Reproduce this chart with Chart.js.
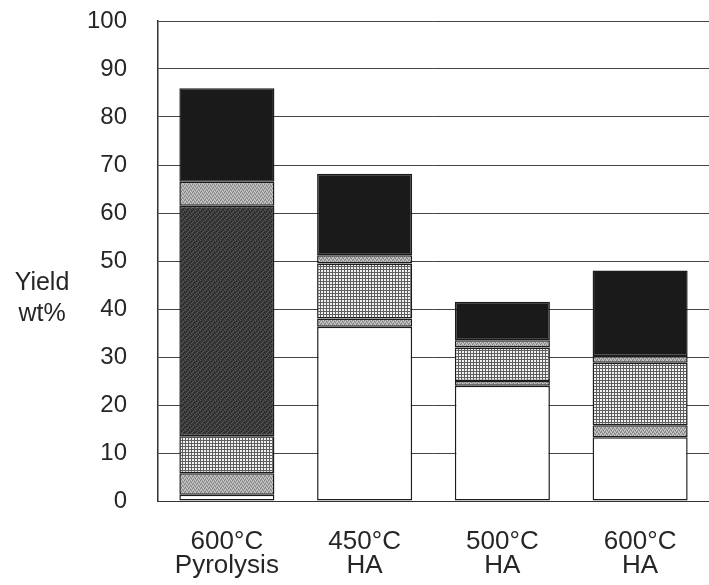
<!DOCTYPE html>
<html>
<head>
<meta charset="utf-8">
<script src="https://cdn.jsdelivr.net/npm/chart.js@4/dist/chart.umd.min.js"></script>
<style>
html,body{margin:0;padding:0;background:#fff;}
#wrap{width:709px;height:585px;}
</style>
</head>
<body>
<div id="wrap"><canvas id="c" width="709" height="585"></canvas></div>
<script>
// ---- data (wt% yield, stacked from bottom to top) ----
const categories = [["600°C","Pyrolysis"],["450°C","HA"],["500°C","HA"],["600°C","HA"]];
const seriesWhite      = [1.3, 36.3, 24.0, 13.3];
const seriesStippleLow = [4.5, 1.7, 1.0, 2.5];
const seriesCrosshatch = [7.7, 11.5, 7.0, 13.0];
const seriesDark       = [48.0, null, null, null];
const seriesStippleHigh= [5.0, 1.7, 1.5, 1.4];
const seriesBlack      = [19.5, 17.0, 8.0, 17.8];
const yMin = 0, yMax = 100, yStep = 10;
const yTitleLines = ['Yield', 'wt%'];

// ---- fill patterns (deterministic tiles) ----
function tile(w, h, draw){
  const cv = document.createElement('canvas'); cv.width = w; cv.height = h;
  const g = cv.getContext('2d'); draw(g);
  return g.createPattern(cv, 'repeat');
}
const ctx = document.getElementById('c').getContext('2d');
const crosshatch = tile(3, 3, g => {
  g.fillStyle = '#f2f2f2'; g.fillRect(0,0,3,3);
  g.fillStyle = '#5e5e5e'; g.fillRect(0,2,3,1); g.fillRect(2,0,1,3);
});
const stipple = tile(4, 4, g => {
  g.fillStyle = '#aaaaaa'; g.fillRect(0,0,4,4);
  g.fillStyle = '#808080'; g.fillRect(0,0,1,1); g.fillRect(2,1,1,1); g.fillRect(1,3,1,1); g.fillRect(3,2,1,1);
  g.fillStyle = '#cccccc'; g.fillRect(1,1,1,1); g.fillRect(3,0,1,1); g.fillRect(0,2,1,1); g.fillRect(2,3,1,1);
});
const darkSpeckle = tile(5, 5, g => {
  g.fillStyle = '#383838'; g.fillRect(0,0,5,5);
  g.fillStyle = '#5a5a5a'; g.fillRect(0,0,1,1); g.fillRect(3,1,1,1); g.fillRect(1,3,1,1); g.fillRect(4,4,1,1); g.fillRect(2,2,1,1);
  g.fillStyle = '#242424'; g.fillRect(1,1,1,1); g.fillRect(4,2,1,1); g.fillRect(3,4,1,1);
});

const border = '#1c1c1c';
function ds(label, data, bg){
  return {label, data, backgroundColor: bg, borderColor: border, borderWidth: 1.5,
          borderSkipped: false, barPercentage: 0.69, categoryPercentage: 1.0};
}
const FONT = '"Liberation Sans", Arial, sans-serif';

const yTitle = {
  id: 'yTitle',
  afterDraw(chart){
    const c = chart.ctx;
    c.save();
    c.fillStyle = '#262626';
    c.font = '25px ' + FONT;
    c.textAlign = 'center'; c.textBaseline = 'middle';
    c.fillText(yTitleLines[0], 42, 283);
    c.fillText(yTitleLines[1], 42, 314);
    c.restore();
  }
};

new Chart(ctx, {
  type: 'bar',
  data: {
    labels: categories,
    datasets: [
      ds('A', seriesWhite, '#ffffff'),
      ds('B', seriesStippleLow, stipple),
      ds('C', seriesCrosshatch, crosshatch),
      ds('D', seriesDark, darkSpeckle),
      ds('E', seriesStippleHigh, stipple),
      ds('F', seriesBlack, '#1a1a1a')
    ]
  },
  options: {
    responsive: false,
    animation: false,
    layout: {padding: {top: 21, right: 0, left: 0, bottom: 0}},
    plugins: {legend: {display: false}, tooltip: {enabled: false}},
    scales: {
      x: {
        stacked: true,
        grid: {display: false, drawTicks: false},
        border: {display: true, color: '#333', width: 1},
        ticks: {color: '#262626', padding: 29, font: {family: FONT, size: 26, lineHeight: 0.93}},
        afterFit(s){ s.height = 84; }
      },
      y: {
        stacked: true,
        min: yMin, max: yMax,
        grid: {color: '#444', lineWidth: 1, tickLength: 31, tickColor: 'rgba(0,0,0,0)'},
        border: {display: true, color: '#333', width: 1.5},
        ticks: {stepSize: yStep, color: '#262626', padding: 0, font: {family: FONT, size: 24}},
        afterFit(s){ s.width = 158; }
      }
    }
  },
  plugins: [yTitle]
});
</script>
</body>
</html>
